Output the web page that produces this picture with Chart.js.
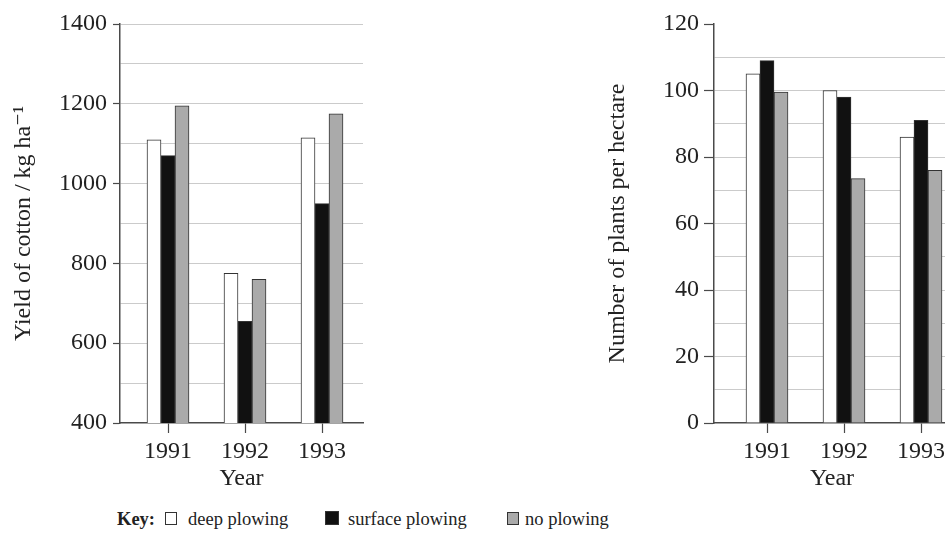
<!DOCTYPE html>
<html>
<head>
<meta charset="utf-8">
<script src="https://cdn.jsdelivr.net/npm/chart.js@4.4.0/dist/chart.umd.min.js"></script>
<style>
  html, body { margin: 0; padding: 0; background: #fff; }
  body { width: 945px; height: 537px; position: relative; overflow: hidden; font-family: "Liberation Serif", "DejaVu Serif", serif; color: #222; }
  #yieldWrap { position: absolute; left: 0; top: 0; width: 400px; height: 500px; }
  #plantWrap { position: absolute; left: 580px; top: 0; width: 400px; height: 500px; }
  .key { position: absolute; top: 508px; font-size: 18.5px; line-height: 22px; white-space: nowrap; font-family: "Liberation Serif", serif; }
  .sw { position: absolute; box-sizing: border-box; border: 1px solid #333; }
</style>
</head>
<body>
<div id="yieldWrap"><canvas id="yieldChart"></canvas></div>
<div id="plantWrap"><canvas id="plantChart"></canvas></div>

<span class="key" style="left:117px"><b>Key:</b></span>
<div class="sw" style="left:165px;top:512px;width:12px;height:13px;background:#fff"></div>
<span class="key" style="left:188px">deep plowing</span>
<div class="sw" style="left:325px;top:511px;width:14px;height:14px;background:#111"></div>
<span class="key" style="left:348px">surface plowing</span>
<div class="sw" style="left:507px;top:512px;width:12px;height:13px;background:#aaa"></div>
<span class="key" style="left:525px">no plowing</span>

<script>
  // ── data ──
  const years = ["1991", "1992", "1993"];
  const series = ["deep plowing", "surface plowing", "no plowing"];

  const yieldDeep    = [1110, 775, 1115];
  const yieldSurface = [1070, 655, 950];
  const yieldNone    = [1195, 760, 1175];

  const plantsDeep    = [105, 100, 86];
  const plantsSurface = [109, 98, 91];
  const plantsNone    = [99.5, 73.5, 76];

  // ── style ──
  const FONT = "'Liberation Serif', 'DejaVu Serif', serif";
  const AXIS = "#4a4a4a";
  const GRID = "#cbcbcb";
  const fills = ["#ffffff", "#111111", "#aaaaaa"];

  function toPoints(vals) {
    return vals.map((v, i) => ({ x: i + 1, y: v }));
  }

  function makeDatasets(groups) {
    return groups.map((vals, k) => ({
      label: series[k],
      data: toPoints(vals),
      backgroundColor: fills[k],
      borderColor: "#333",
      borderWidth: 1,
      barThickness: 14,
    }));
  }

  function buildChart(canvas, cfg) {
    return new Chart(canvas.getContext("2d"), {
      type: "bar",
      data: { datasets: makeDatasets(cfg.groups) },
      options: {
        responsive: true,
        maintainAspectRatio: false,
        animation: false,
        layout: { padding: cfg.padding },
        plugins: { legend: { display: false }, tooltip: { enabled: false } },
        scales: {
          x: {
            type: "linear",
            offset: false,
            bounds: "data",
            min: cfg.xMin,
            max: cfg.xMax,
            afterBuildTicks: (axis) => { axis.ticks = years.map((_, i) => ({ value: i + 1 })); },
            afterFit: (s) => { s.height = 77; },
            ticks: {
              color: "#222",
              font: { family: FONT, size: 24 },
              padding: 4,
              callback: (v) => years[v - 1] || "",
            },
            grid: { offset: false, drawOnChartArea: false, drawTicks: true, tickLength: 10, tickColor: AXIS, tickWidth: 1.2 },
            border: { color: AXIS, width: 1.5 },
            title: {
              display: true,
              text: "Year",
              color: "#222",
              font: { family: FONT, size: 24 },
              padding: { top: 0, bottom: 7 },
            },
          },
          y: {
            min: cfg.yMin,
            max: cfg.yMax,
            afterFit: (s) => { s.width = cfg.yWidth; },
            ticks: {
              stepSize: cfg.minor,
              color: "#222",
              font: { family: FONT, size: 24 },
              padding: cfg.tickPad,
              callback: (v) => (v % cfg.major === 0 ? v : ""),
            },
            grid: {
              color: (c) => (c.tick && (c.tick.value === cfg.yMin || (cfg.noTopGrid && c.tick.value === cfg.yMax)) ? "rgba(0,0,0,0)" : GRID),
              lineWidth: 1,
              tickLength: cfg.tickLen,
              tickColor: (c) => (c.tick && c.tick.value % cfg.major === 0 ? AXIS : "rgba(0,0,0,0)"),
              tickWidth: 1.2,
            },
            border: { color: AXIS, width: 1.5 },
            title: {
              display: true,
              text: cfg.yTitle,
              color: "#222",
              font: { family: FONT, size: 24 },
              padding: { top: cfg.titlePad, bottom: 0 },
            },
          },
        },
      },
    });
  }

  buildChart(document.getElementById("yieldChart"), {
    groups: [yieldDeep, yieldSurface, yieldNone],
    padding: { top: 24, right: 37, left: 0, bottom: 0 },
    xMin: 1 - 48 / 77, xMax: 3 + 41 / 77,
    yMin: 400, yMax: 1400, minor: 100, major: 200,
    yWidth: 120, tickLen: 7, tickPad: 6, titlePad: 9,
    noTopGrid: false,
    yTitle: "Yield of cotton / kg ha\u207B\u00B9",
  });

  // right panel runs past the page edge, like the cropped original
  buildChart(document.getElementById("plantChart"), {
    groups: [plantsDeep, plantsSurface, plantsNone],
    padding: { top: 24, right: 30, left: 0, bottom: 0 },
    xMin: 1 - 53 / 77, xMax: 1 + 183 / 77,
    yMin: 0, yMax: 120, minor: 10, major: 20,
    yWidth: 134, tickLen: 10, tickPad: 5, titlePad: 23,
    noTopGrid: true,
    yTitle: "Number of plants per hectare",
  });
</script>
</body>
</html>
